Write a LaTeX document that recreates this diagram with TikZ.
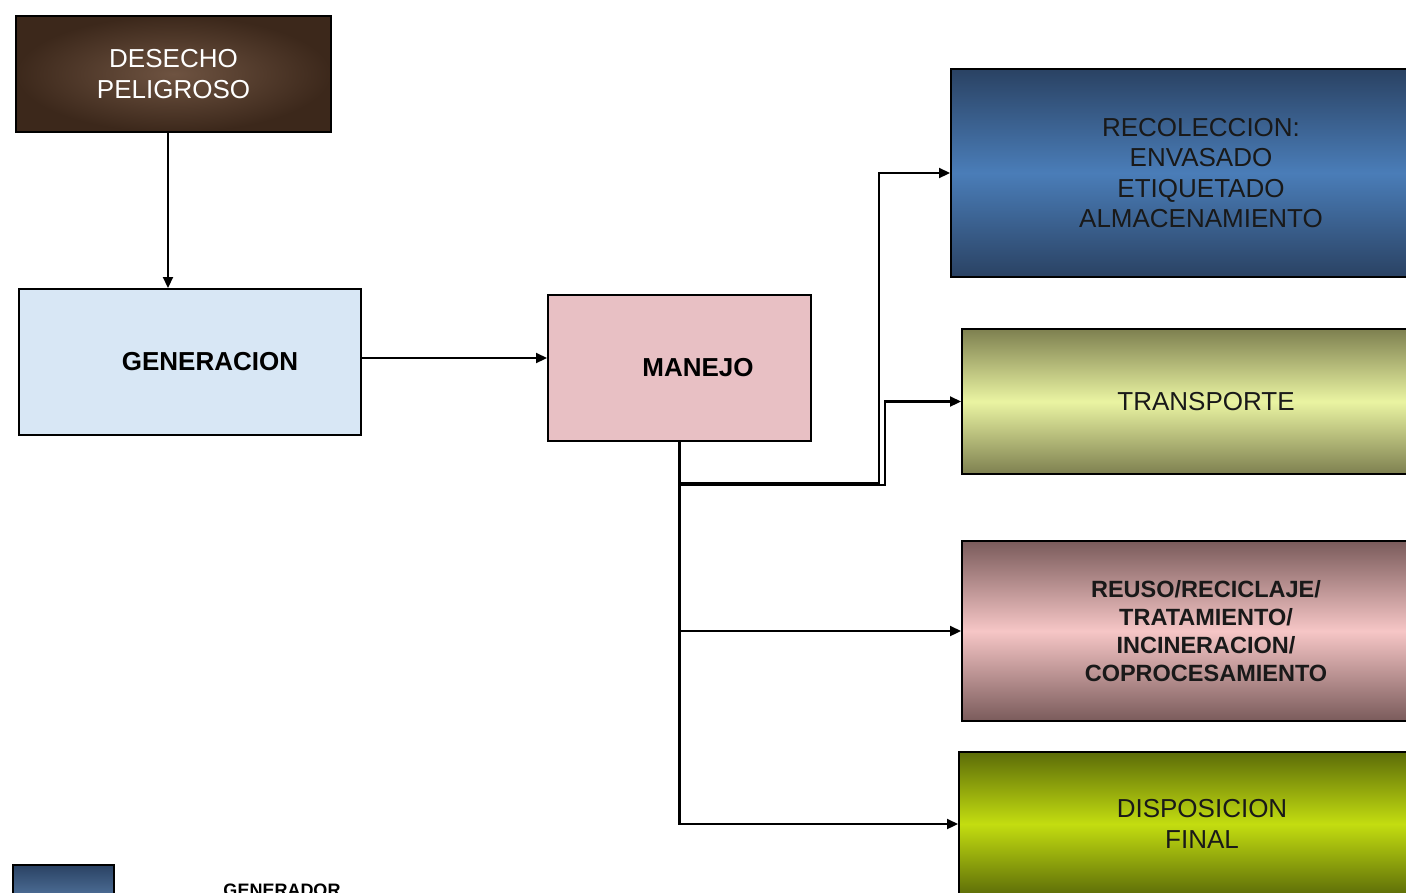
\documentclass[tikz,border=0pt]{standalone}
\usepackage{fontspec}
\setmainfont{Liberation Sans}
\usetikzlibrary{arrows.meta}
\definecolor{brownin}{HTML}{6E5341}
\definecolor{brownout}{HTML}{3C281B}
\definecolor{genfill}{HTML}{D8E7F5}
\definecolor{manfill}{HTML}{E8C0C4}
\definecolor{recdark}{HTML}{2A4263}
\definecolor{recmid}{HTML}{4A7DB8}
\definecolor{tradark}{HTML}{7E8050}
\definecolor{tramid}{HTML}{EAF4A2}
\definecolor{reudark}{HTML}{7A5B5B}
\definecolor{reumid}{HTML}{F6C6C6}
\definecolor{disdark}{HTML}{5C6C08}
\definecolor{dismid}{HTML}{C3DD10}
\begin{document}
\begin{tikzpicture}[x=1pt,y=-1pt,
  box/.style={draw=black,line width=2pt,rectangle,inner sep=0pt,anchor=north west,align=center},
  txt/.style={font=\fontsize{26}{30.5}\selectfont},
  conn/.style={draw=black,line width=2.2pt},
  arr/.style={conn,-{Triangle[length=11pt,width=10pt]}}]
\useasboundingbox (0,0) rectangle (1406,892);
\clip (0,0) rectangle (1406,892);
\fill[white] (0,0) rectangle (1406,892);

\node[box,txt,inner color=brownin,outer color=brownout,text=white,minimum width=315pt,minimum height=116pt] (des) at (15,15) {DESECHO\\PELIGROSO};
\node[box,font=\bfseries\fontsize{26}{30}\selectfont,fill=genfill,minimum width=342pt,minimum height=146pt] (gen) at (18,288) {\hspace*{40pt}GENERACION};
\node[box,font=\bfseries\fontsize{26}{30}\selectfont,fill=manfill,minimum width=263pt,minimum height=146pt] (man) at (547,294) {\hspace*{37pt}MANEJO};

\node[box,txt,top color=recdark,bottom color=recdark,middle color=recmid,text=black!90,minimum width=500pt,minimum height=208pt] (rec) at (950,68) {RECOLECCION:\\ENVASADO\\ETIQUETADO\\ALMACENAMIENTO};
\node[box,txt,top color=tradark,bottom color=tradark,middle color=tramid,text=black!90,minimum width=488pt,minimum height=145pt] (tra) at (961,328) {TRANSPORTE};
\node[box,font=\bfseries\fontsize{23.5}{28}\selectfont,top color=reudark,bottom color=reudark,middle color=reumid,text=black!90,minimum width=488pt,minimum height=180pt] (reu) at (961,540) {REUSO/RECICLAJE/\\TRATAMIENTO/\\INCINERACION/\\COPROCESAMIENTO};
\node[box,txt,top color=disdark,bottom color=disdark,middle color=dismid,text=black!90,minimum width=486pt,minimum height=144pt] (dis) at (958,751) {DISPOSICION\\FINAL};

\node[box,top color=recdark,bottom color=recmid!80!white,minimum width=101pt,minimum height=60pt] (leg) at (12,864) {};
\node[font=\bfseries\fontsize{18}{20}\selectfont,anchor=base,inner sep=0pt] (legt) at (282,896) {GENERADOR};

\coordinate (j1) at (879,483);
\coordinate (j2) at (885,485);

\draw[arr] ([xshift=-5.5pt]des.south) -- ([xshift=-5.5pt]des.south |- gen.north);
\draw[arr] ([yshift=4pt]gen.east) -- ([yshift=4pt]gen.east -| man.west);
\draw[arr] (man.south) |- (j1) |- (rec.west);
\draw[arr] (man.south) |- (j2) |- (tra.west);
\draw[arr] (man.south) |- (reu.west);
\draw[arr] (man.south) |- (dis.west);
\end{tikzpicture}
\end{document}
